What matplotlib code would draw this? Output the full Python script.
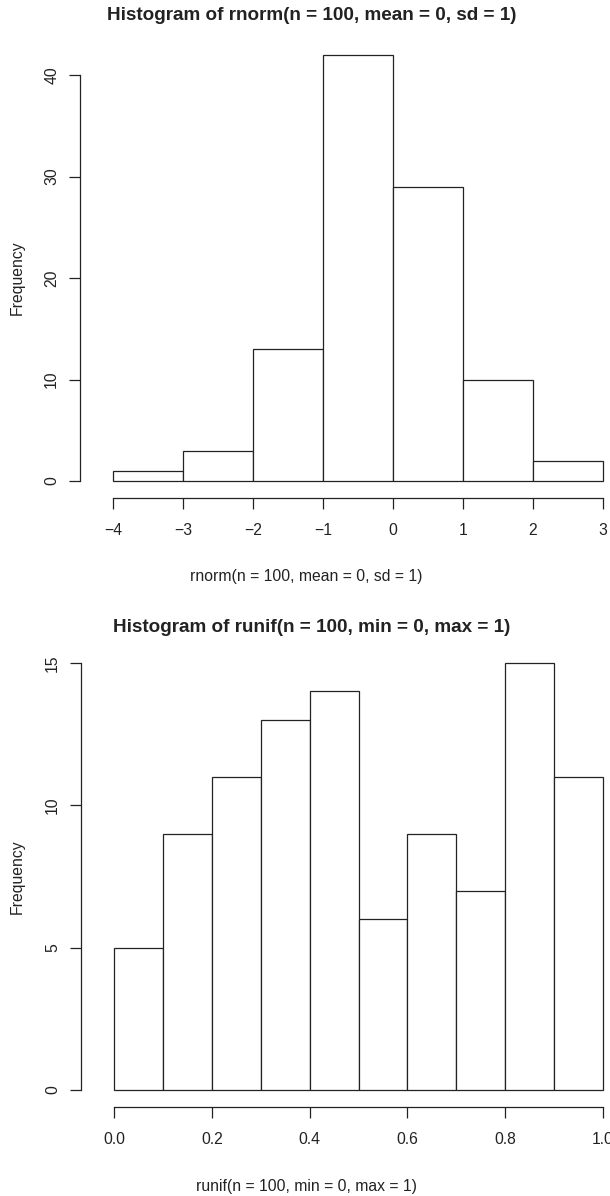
import matplotlib
matplotlib.use("Agg")
import matplotlib.pyplot as plt

plt.rcParams["font.family"] = ["Liberation Sans", "DejaVu Sans"]

# histogram data
norm_edges = [-4, -3, -2, -1, 0, 1, 2, 3]
norm_counts = [1, 3, 13, 42, 29, 10, 2]
norm_xticks = [-4, -3, -2, -1, 0, 1, 2, 3]
norm_yticks = [0, 10, 20, 30, 40]

unif_edges = [0.0, 0.1, 0.2, 0.3, 0.4, 0.5, 0.6, 0.7, 0.8, 0.9, 1.0]
unif_counts = [5, 9, 11, 13, 14, 6, 9, 7, 15, 11]
unif_xticks = [0.0, 0.2, 0.4, 0.6, 0.8, 1.0]
unif_yticks = [0, 5, 10, 15]

W, H = 610, 1196
fig = plt.figure(figsize=(W / 100, H / 100), dpi=100)
INK = "#222222"


def r_hist(px, edges, counts, xticks, yticks, xfmt, title, xlabel, title_y, xlab_y):
    left, right, bottom, top = px
    ax = fig.add_axes([left / W, 1 - bottom / H, (right - left) / W, (bottom - top) / H])
    widths = [b - a for a, b in zip(edges[:-1], edges[1:])]
    bars = ax.bar(edges[:-1], counts, width=widths, align="edge", color="white",
                  edgecolor=INK, linewidth=0.9)
    for b in bars:
        b.set_clip_on(False)
    ax.set_xlim(edges[0], edges[-1])
    ax.set_ylim(0, yticks[-1])
    for s in ("top", "right"):
        ax.spines[s].set_visible(False)
    ax.spines["left"].set_position(("outward", 33 * 0.72))
    ax.spines["bottom"].set_position(("outward", 17 * 0.72))
    ax.spines["left"].set_bounds(yticks[0], yticks[-1])
    ax.spines["bottom"].set_bounds(xticks[0], xticks[-1])
    for s in ("left", "bottom"):
        ax.spines[s].set_color(INK)
        ax.spines[s].set_linewidth(0.9)
    ax.set_xticks(xticks)
    ax.set_xticklabels([xfmt(v) for v in xticks])
    ax.set_yticks(yticks)
    ax.set_yticklabels([str(v) for v in yticks], rotation=90, va="center")
    ax.tick_params(direction="out", length=8, width=0.9, color=INK,
                   labelsize=11.3, labelcolor=INK, pad=7)
    ax.tick_params(axis="x", pad=10)
    for lab in ax.get_xticklabels():
        lab.set_clip_on(False)
    fig.text(312 / W, 1 - title_y / H, title, ha="center", va="center",
             fontsize=13.6, fontweight="bold", color=INK)
    fig.text(306 / W, 1 - xlab_y / H, xlabel, ha="center", va="center",
             fontsize=11.3, color=INK)
    fig.text(17 / W, 1 - (top + bottom) / 2 / H, "Frequency", rotation=90,
             ha="center", va="center", fontsize=11.3, color=INK)
    return ax


r_hist((113, 603, 481, 75), norm_edges, norm_counts, norm_xticks, norm_yticks,
       lambda v: str(v).replace("-", "\u2212"),
       "Histogram of rnorm(n = 100, mean = 0, sd = 1)",
       "rnorm(n = 100, mean = 0, sd = 1)", 15, 577)

r_hist((114, 603, 1090, 663), unif_edges, unif_counts, unif_xticks, unif_yticks,
       lambda v: f"{v:.1f}",
       "Histogram of runif(n = 100, min = 0, max = 1)",
       "runif(n = 100, min = 0, max = 1)", 628, 1187)

fig.savefig("out.png", dpi=100)
